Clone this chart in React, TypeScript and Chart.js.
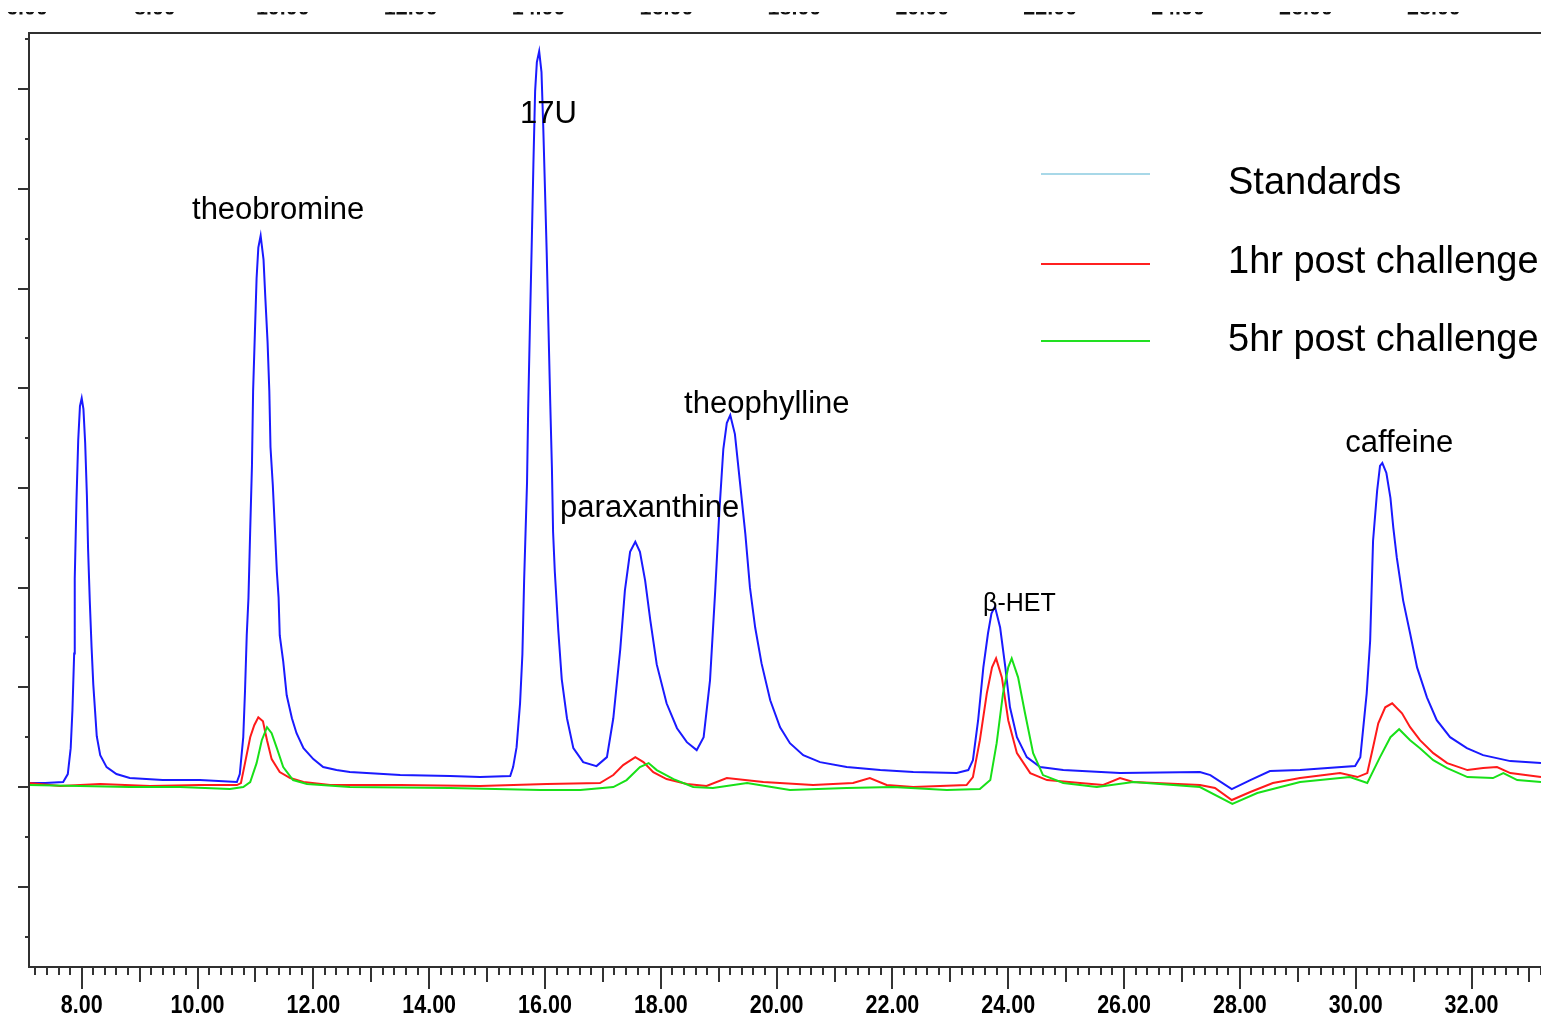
import React, { useEffect, useRef } from 'react';
import { Chart, registerables } from 'chart.js';

Chart.register(...registerables);

// Retention time (min) and detector signal (arbitrary units) for each trace
const standardsTime = [7.09, 7.37, 7.68, 7.76, 7.81, 7.84, 7.87, 7.88, 7.91, 7.94,
  7.97, 8.00, 8.03, 8.06, 8.09, 8.11, 8.14, 8.17, 8.20, 8.23,
  8.26, 8.32, 8.43, 8.60, 8.83, 9.40, 10.04, 10.68, 10.73, 10.79,
  10.82, 10.85, 10.88, 10.91, 10.94, 10.96, 10.99, 11.02, 11.05, 11.09,
  11.14, 11.17, 11.21, 11.24, 11.26, 11.30, 11.34, 11.37, 11.40, 11.42,
  11.48, 11.54, 11.63, 11.71, 11.83, 12.00, 12.17, 12.40, 12.63, 13.50,
  14.36, 14.88, 15.40, 15.45, 15.51, 15.57, 15.61, 15.64, 15.69, 15.71,
  15.74, 15.77, 15.80, 15.83, 15.86, 15.90, 15.94, 15.97, 16.00, 16.03,
  16.06, 16.09, 16.12, 16.14, 16.17, 16.23, 16.29, 16.38, 16.49, 16.66,
  16.89, 17.07, 17.18, 17.30, 17.38, 17.47, 17.56, 17.64, 17.73, 17.82,
  17.93, 18.10, 18.28, 18.45, 18.62, 18.74, 18.85, 18.94, 19.01, 19.08,
  19.14, 19.20, 19.28, 19.37, 19.46, 19.54, 19.63, 19.74, 19.89, 20.06,
  20.23, 20.46, 20.75, 21.21, 21.79, 22.36, 23.11, 23.31, 23.39, 23.48,
  23.57, 23.65, 23.71, 23.77, 23.86, 23.95, 24.03, 24.15, 24.32, 24.55,
  24.95, 25.93, 27.31, 27.49, 27.86, 28.18, 28.52, 29.04, 29.99, 30.08,
  30.19, 30.25, 30.30, 30.37, 30.42, 30.46, 30.53, 30.60, 30.65, 30.71,
  30.82, 30.94, 31.06, 31.23, 31.40, 31.63, 31.92, 32.20, 32.67, 33.20];
const standardsSignal = [4, 4, 5, 13, 39, 77, 134, 209, 288, 348,
  382, 390, 379, 345, 292, 239, 186, 141, 103, 77,
  51, 32, 20, 13, 9, 7, 7, 5, 13, 50,
  96, 152, 190, 258, 322, 397, 454, 510, 541, 553,
  529, 492, 446, 397, 341, 303, 254, 216, 190, 152,
  126, 92, 69, 54, 39, 28, 20, 17, 15, 12,
  11, 10, 11, 20, 40, 84, 133, 207, 305, 379,
  462, 541, 624, 698, 727, 738, 717, 663, 600, 536,
  462, 388, 320, 256, 216, 157, 108, 69, 39, 25,
  21, 30, 69, 138, 197, 236, 246, 236, 207, 167,
  123, 84, 59, 45, 37, 50, 107, 197, 275, 339,
  365, 373, 354, 304, 254, 200, 160, 124, 87, 60,
  44, 32, 25, 20, 17, 15, 14, 17, 27, 67,
  120, 154, 174, 181, 160, 120, 80, 50, 30, 20,
  17, 14, 15, 12, -2, 7, 16, 17, 21, 30,
  94, 147, 247, 297, 322, 325, 315, 290, 260, 230,
  187, 154, 120, 90, 67, 50, 39, 32, 26, 24];

const oneHourTime = [7.09, 7.63, 8.32, 9.18, 10.04, 10.68, 10.75, 10.82, 10.91, 10.98,
  11.05, 11.13, 11.20, 11.28, 11.42, 11.60, 11.83, 12.29, 13.50, 14.88,
  16.03, 16.95, 17.18, 17.35, 17.56, 17.70, 17.87, 18.10, 18.45, 18.79,
  19.14, 19.77, 20.63, 21.32, 21.61, 21.90, 22.36, 23.28, 23.39, 23.51,
  23.63, 23.72, 23.79, 23.89, 24.00, 24.15, 24.38, 24.67, 25.24, 25.64,
  25.93, 26.16, 27.31, 27.57, 27.86, 28.18, 28.57, 29.04, 29.73, 30.03,
  30.20, 30.30, 30.39, 30.51, 30.63, 30.80, 30.94, 31.11, 31.34, 31.58,
  31.93, 32.20, 32.44, 32.67, 33.20];
const oneHourSignal = [4, 1, 3, 1, 2, 2, 4, 24, 50, 62,
  70, 66, 47, 28, 15, 9, 5, 2, 2, 1,
  3, 4, 12, 22, 30, 25, 15, 8, 3, 1,
  9, 5, 2, 4, 9, 2, 0, 2, 10, 47,
  94, 120, 129, 110, 67, 34, 14, 7, 4, 2,
  9, 5, 2, -1, -13, -5, 4, 9, 14, 10,
  14, 40, 64, 80, 84, 74, 60, 47, 34, 24,
  17, 19, 20, 14, 10];

const fiveHourTime = [7.09, 7.97, 8.83, 9.70, 10.56, 10.79, 10.91, 11.02, 11.11, 11.20,
  11.28, 11.37, 11.48, 11.65, 11.89, 12.63, 14.36, 15.92, 16.61, 17.18,
  17.41, 17.64, 17.79, 17.93, 18.22, 18.56, 18.90, 19.49, 20.23, 21.21,
  22.01, 22.94, 23.51, 23.69, 23.80, 23.91, 24.00, 24.06, 24.17, 24.29,
  24.43, 24.60, 24.95, 25.53, 26.16, 27.31, 27.87, 28.30, 29.04, 29.90,
  30.20, 30.42, 30.60, 30.75, 30.94, 31.11, 31.34, 31.58, 31.93, 32.37,
  32.55, 32.79, 33.20];
const fiveHourSignal = [2, 1, 0, 0, -2, 0, 5, 24, 47, 60,
  54, 39, 20, 7, 3, 0, -1, -3, -3, 0,
  7, 20, 24, 17, 8, 0, -1, 4, -3, -1,
  0, -3, -2, 7, 44, 94, 120, 129, 110, 74,
  34, 12, 4, 0, 5, 0, -17, -6, 5, 10,
  4, 30, 50, 58, 47, 39, 27, 19, 10, 9,
  14, 7, 5];

const seriesNames = ['Standards', '1hr post challenge', '5hr post challenge'];
const xTickLabels = ['8.00', '10.00', '12.00', '14.00', '16.00', '18.00', '20.00',
  '22.00', '24.00', '26.00', '28.00', '30.00', '32.00'];
const topCutLabels = ['6.00', '8.00', '10.00', '12.00', '14.00', '16.00', '18.00',
  '20.00', '22.00', '24.00', '26.00', '28.00'];
const peakNames = ['theobromine', '17U', 'paraxanthine', 'theophylline', 'β-HET', 'caffeine'];

const X_MIN = 7.09;
const X_MAX = 33.2;
const Y_MIN = -180.5;
const Y_MAX = 756.3;

const toPoints = (t: number[], s: number[]) => t.map((v, i) => ({ x: v, y: s[i] }));

export default function App() {
  const canvasRef = useRef<HTMLCanvasElement | null>(null);

  useEffect(() => {
    document.body.style.margin = '0';
    const canvas = canvasRef.current;
    if (!canvas) return;

    // label anchors (left edge time, baseline signal) and font sizes
    const peakAnchors = [
      { t: 9.905, s: 570, size: 31 },
      { t: 15.57, s: 666, size: 31 },
      { t: 16.261, s: 271, size: 31 },
      { t: 18.402, s: 375, size: 31 },
      { t: 23.566, s: 177, size: 25 },
      { t: 29.819, s: 336, size: 31 },
    ];
    const sansFont = '"Liberation Sans", Arial, sans-serif';

    const decor = {
      id: 'decor',
      afterDatasetsDraw(chart: any) {
        const { ctx, chartArea: a, scales } = chart;
        const xs = scales.x;
        const ys = scales.y;
        ctx.save();

        // frame lines
        ctx.strokeStyle = '#303030';
        ctx.lineWidth = 2;
        ctx.beginPath();
        ctx.moveTo(a.left - 1, a.top);
        ctx.lineTo(a.right, a.top);
        ctx.moveTo(a.left, a.top);
        ctx.lineTo(a.left, a.bottom);
        ctx.moveTo(a.left - 1, a.bottom);
        ctx.lineTo(a.right, a.bottom);
        ctx.stroke();

        // y ticks
        ctx.strokeStyle = '#333';
        ctx.beginPath();
        for (let k = -3; k <= 15; k++) {
          const v = k * 50;
          if (v < Y_MIN || v > Y_MAX) continue;
          const py = Math.round(ys.getPixelForValue(v));
          const len = k % 2 === 0 ? 11 : 4;
          ctx.moveTo(a.left - len, py);
          ctx.lineTo(a.left, py);
        }
        ctx.stroke();

        // x ticks
        ctx.beginPath();
        for (let k = 36; k <= 166; k++) {
          const v = k / 5;
          if (v < X_MIN || v > X_MAX) continue;
          const px = Math.round(xs.getPixelForValue(v));
          const len = k % 10 === 0 ? 22 : k % 5 === 0 ? 15 : 8;
          ctx.moveTo(px, a.bottom);
          ctx.lineTo(px, a.bottom + len);
        }
        ctx.stroke();

        // x tick labels
        ctx.fillStyle = '#000';
        ctx.font = 'bold 25px ' + sansFont;
        ctx.textAlign = 'center';
        ctx.textBaseline = 'alphabetic';
        xTickLabels.forEach((lab) => {
          const px = xs.getPixelForValue(parseFloat(lab));
          ctx.save();
          ctx.translate(px, a.bottom + 46);
          ctx.scale(0.86, 1);
          ctx.fillText(lab, 0, 0);
          ctx.restore();
        });

        // peak annotations
        ctx.textAlign = 'left';
        peakNames.forEach((name, i) => {
          const an = peakAnchors[i];
          ctx.font = an.size + 'px ' + sansFont;
          ctx.fillText(name, xs.getPixelForValue(an.t), ys.getPixelForValue(an.s));
        });

        // legend
        const legendColors = ['#a8d8e8', '#ff2020', '#22e022'];
        const legendY = [174, 264, 341];
        const legendTextY = [194, 273, 351];
        ctx.font = '38px ' + sansFont;
        seriesNames.forEach((name, i) => {
          ctx.strokeStyle = legendColors[i];
          ctx.lineWidth = 2;
          ctx.beginPath();
          ctx.moveTo(1041, legendY[i]);
          ctx.lineTo(1150, legendY[i]);
          ctx.stroke();
          ctx.fillStyle = '#000';
          ctx.fillText(name, 1228, legendTextY[i]);
        });

        ctx.restore();
      },
      afterDraw(chart: any) {
        // cut-off labels of the preceding panel: only the bottom few pixels remain
        const ctx = chart.ctx;
        ctx.save();
        ctx.setTransform(1, 0, 0, 1, 0, 0);
        ctx.beginPath();
        ctx.rect(0, 12, 1541, 2.6);
        ctx.clip();
        ctx.fillStyle = '#111';
        ctx.font = 'bold 25px ' + sansFont;
        ctx.textAlign = 'center';
        ctx.textBaseline = 'alphabetic';
        topCutLabels.forEach((lab, i) => {
          ctx.save();
          ctx.translate(27 + i * 127.9, 14.6);
          ctx.scale(0.86, 1);
          ctx.fillText(lab, 0, 0);
          ctx.restore();
        });
        ctx.restore();
      },
    };

    const chart = new Chart(canvas, {
      type: 'line',
      data: {
        datasets: [
          {
            label: seriesNames[2],
            data: toPoints(fiveHourTime, fiveHourSignal),
            borderColor: '#18e018',
            borderWidth: 2,
            pointRadius: 0,
            tension: 0,
            fill: false,
          },
          {
            label: seriesNames[1],
            data: toPoints(oneHourTime, oneHourSignal),
            borderColor: '#ff1a1a',
            borderWidth: 2,
            pointRadius: 0,
            tension: 0,
            fill: false,
          },
          {
            label: seriesNames[0],
            data: toPoints(standardsTime, standardsSignal),
            borderColor: '#1a1aff',
            borderWidth: 2,
            pointRadius: 0,
            tension: 0,
            fill: false,
          },
        ],
      },
      options: {
        responsive: false,
        animation: false,
        devicePixelRatio: 1,
        layout: { padding: { left: 29, top: 33, right: 0, bottom: 54 } },
        plugins: {
          legend: { display: false },
          tooltip: { enabled: false },
        },
        scales: {
          x: { type: 'linear', min: X_MIN, max: X_MAX, display: false },
          y: { type: 'linear', min: Y_MIN, max: Y_MAX, display: false },
        },
      },
      plugins: [decor],
    });

    return () => chart.destroy();
  }, []);

  return (
    <div style={{ width: 1541, height: 1021, background: '#fff' }}>
      <canvas ref={canvasRef} width={1541} height={1021} style={{ display: 'block' }} />
    </div>
  );
}
